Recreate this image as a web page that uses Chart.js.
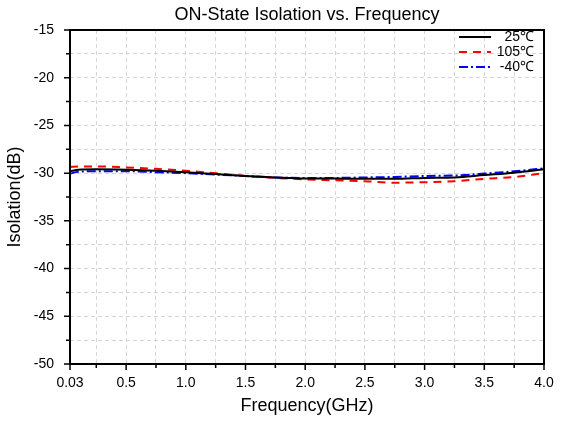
<!DOCTYPE html>
<html>
<head>
<meta charset="utf-8">
<script src="https://cdn.jsdelivr.net/npm/chart.js@4.4.1/dist/chart.umd.min.js"></script>
<style>
  html, body { margin: 0; padding: 0; background: #fff; }
  #wrap { width: 576px; height: 423px; }
</style>
</head>
<body>
<div id="wrap"><canvas id="chart"></canvas></div>
<script>
// datos
const freq = [0.03, 0.1, 0.25, 0.5, 0.75, 1.0, 1.25, 1.5, 1.75, 2.0, 2.25, 2.5, 2.75, 3.0, 3.25, 3.5, 3.75, 4.0];
const iso25 = [-29.8, -29.65, -29.6, -29.65, -29.75, -29.9, -30.1, -30.3, -30.45, -30.55, -30.55, -30.6, -30.6, -30.5, -30.45, -30.2, -29.95, -29.6];
const iso105 = [-29.35, -29.3, -29.3, -29.4, -29.55, -29.75, -30.0, -30.3, -30.5, -30.65, -30.75, -30.85, -31.0, -30.95, -30.85, -30.6, -30.4, -30.0];
const isoM40 = [-30.05, -29.85, -29.8, -29.8, -29.9, -30.0, -30.15, -30.3, -30.45, -30.5, -30.5, -30.45, -30.4, -30.3, -30.25, -30.05, -29.8, -29.5];
const seriesLabels = ['25℃', '105℃', '-40℃'];
const chartTitle = 'ON-State Isolation vs. Frequency';

const xTicks = [0.03, 0.25, 0.5, 0.75, 1.0, 1.25, 1.5, 1.75, 2.0, 2.25, 2.5, 2.75, 3.0, 3.25, 3.5, 3.75, 4.0];
const xLabels = [0.03, 0.5, 1.0, 1.5, 2.0, 2.5, 3.0, 3.5, 4.0];
const yTicks = [-50, -47.5, -45, -42.5, -40, -37.5, -35, -32.5, -30, -27.5, -25, -22.5, -20, -17.5, -15];
const yLabels = [-50, -45, -40, -35, -30, -25, -20, -15];

const FONT = 'Liberation Sans, Arial, sans-serif';

const toXY = (ys) => freq.map((f, i) => ({ x: f, y: ys[i] }));

// titulo, marco, marcas de eje y leyenda
const framePlugin = {
    id: 'frame',
    afterDraw(chart) {
        const { ctx, chartArea: a, scales } = chart;
        ctx.save();

        ctx.fillStyle = '#000';
        ctx.font = '18px ' + FONT;
        ctx.textAlign = 'center';
        ctx.textBaseline = 'middle';
        ctx.fillText(chartTitle, (a.left + a.right) / 2, 15);

        ctx.strokeStyle = '#000';
        ctx.lineWidth = 2;
        ctx.strokeRect(a.left, a.top, a.right - a.left, a.bottom - a.top);

        ctx.lineWidth = 1.5;
        ctx.beginPath();
        xTicks.forEach(v => {
            const px = scales.x.getPixelForValue(v);
            const len = xLabels.includes(v) ? 6 : 4;
            ctx.moveTo(px, a.bottom);
            ctx.lineTo(px, a.bottom + len);
        });
        yTicks.forEach(v => {
            const py = scales.y.getPixelForValue(v);
            const len = yLabels.includes(v) ? 6 : 4;
            ctx.moveTo(a.left, py);
            ctx.lineTo(a.left - len, py);
        });
        ctx.stroke();

        // leyenda
        const rows = [37, 52, 67];
        ctx.font = '14px ' + FONT;
        ctx.textAlign = 'right';
        ctx.textBaseline = 'middle';
        chart.data.datasets.forEach((ds, i) => {
            const y = rows[i];
            ctx.strokeStyle = ds.borderColor;
            ctx.lineWidth = 2;
            ctx.setLineDash(ds.borderDash || []);
            ctx.beginPath();
            ctx.moveTo(459, y);
            ctx.lineTo(491, y);
            ctx.stroke();
            ctx.setLineDash([]);
            ctx.fillStyle = '#000';
            ctx.fillText(ds.label, 534, y);
        });
        ctx.restore();
    }
};

const ctx = document.getElementById('chart').getContext('2d');

new Chart(ctx, {
    type: 'line',
    data: {
        datasets: [
            { label: seriesLabels[0], data: toXY(iso25), borderColor: '#000000', borderWidth: 2 },
            { label: seriesLabels[1], data: toXY(iso105), borderColor: '#ff0000', borderWidth: 2, borderDash: [8, 6] },
            { label: seriesLabels[2], data: toXY(isoM40), borderColor: '#0000ff', borderWidth: 2, borderDash: [9, 3, 2, 3] }
        ]
    },
    options: {
        responsive: true,
        maintainAspectRatio: false,
        animation: false,
        devicePixelRatio: 1,
        elements: {
            point: { radius: 0 },
            line: { cubicInterpolationMode: 'monotone' }
        },
        layout: { padding: { top: 30, right: 32, left: 0, bottom: 2 } },
        plugins: {
            legend: { display: false },
            tooltip: { enabled: false },
            title: { display: false }
        },
        scales: {
            x: {
                type: 'linear',
                min: 0.03,
                max: 4.0,
                afterBuildTicks: (scale) => { scale.ticks = xTicks.map(v => ({ value: v })); },
                afterFit: (scale) => { scale.height = 57; },
                grid: { color: '#d6d6d6', drawTicks: false, tickLength: 0 },
                border: { display: false, dash: [4, 3] },
                ticks: {
                    color: '#000',
                    padding: 11,
                    maxRotation: 0,
                    autoSkip: false,
                    font: { family: FONT, size: 14 },
                    callback: (v) => xLabels.includes(v) ? (v === 0.03 ? '0.03' : v.toFixed(1)) : ''
                },
                title: {
                    display: true,
                    text: 'Frequency(GHz)',
                    color: '#000',
                    font: { family: FONT, size: 18 },
                    padding: { top: 2 }
                }
            },
            y: {
                min: -50,
                max: -15,
                afterBuildTicks: (scale) => { scale.ticks = yTicks.map(v => ({ value: v })); },
                afterFit: (scale) => { scale.width = 70; },
                grid: { color: '#d6d6d6', drawTicks: false, tickLength: 0 },
                border: { display: false, dash: [4, 3] },
                ticks: {
                    color: '#000',
                    padding: 16,
                    autoSkip: false,
                    font: { family: FONT, size: 14 },
                    callback: (v) => yLabels.includes(v) ? String(v) : ''
                },
                title: {
                    display: true,
                    text: 'Isolation(dB)',
                    color: '#000',
                    font: { family: FONT, size: 18 },
                    padding: { bottom: 0 }
                }
            }
        }
    },
    plugins: [framePlugin]
});
</script>
</body>
</html>
